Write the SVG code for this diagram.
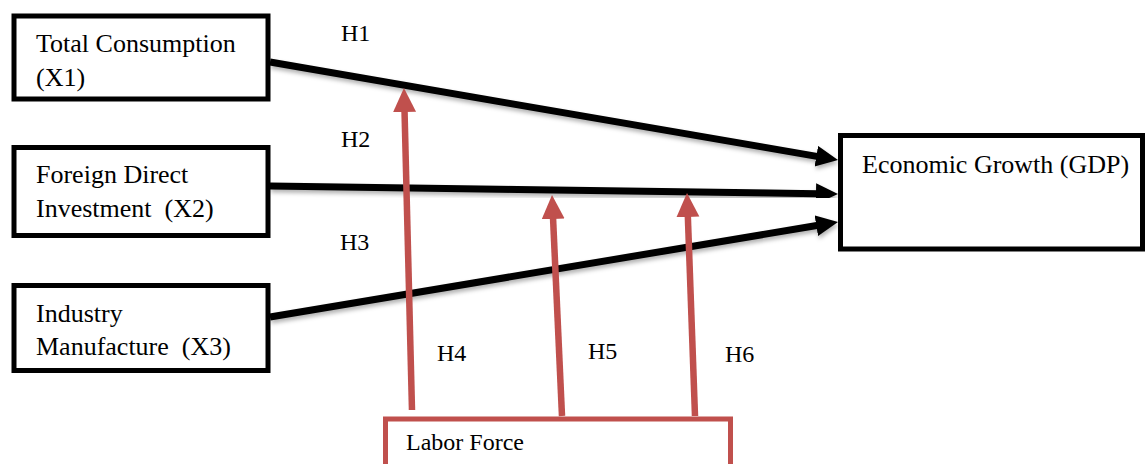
<svg xmlns="http://www.w3.org/2000/svg" width="1147" height="464" viewBox="0 0 1147 464">
<defs>
<style>
.box{fill:#fff;stroke:#000;stroke-width:5}
.rbox{fill:#fff;stroke:#C0504D;stroke-width:5}
text{fill:#000;white-space:pre}
.t{font-size:26px}
.h{font-size:24px}
.blk{stroke:#000;stroke-width:7;fill:none;marker-end:url(#ab);filter:url(#sh)}
.red{stroke:#C0504D;stroke-width:6.5;fill:none;marker-end:url(#ar)}
</style>
<marker id="ab" markerUnits="userSpaceOnUse" markerWidth="24" markerHeight="22" refX="2" refY="10.5" orient="auto">
<path d="M0,0 L22,10.5 L0,21 z" fill="#000"/>
</marker>
<marker id="ar" markerUnits="userSpaceOnUse" markerWidth="26" markerHeight="24" refX="2" refY="11.5" orient="auto">
<path d="M0,0 L24,11.5 L0,23 z" fill="#C0504D"/>
</marker>
<filter id="sh" x="-10%" y="-50%" width="120%" height="200%">
<feDropShadow dx="1" dy="3" stdDeviation="2" flood-color="#000" flood-opacity="0.3"/>
</filter>
</defs>
<rect width="1147" height="464" fill="#fff"/>
<g font-family="Liberation Serif, Times New Roman, DejaVu Serif, serif">
<g id="x1">
<rect class="box" x="14" y="16" width="254" height="83"/>
<text class="t" x="36" y="52">Total Consumption</text>
<text class="t" x="36" y="86">(X1)</text>
</g>
<g id="x2">
<rect class="box" x="14" y="147.5" width="254" height="88"/>
<text class="t" x="36" y="183">Foreign Direct</text>
<text class="t" x="36" y="217">Investment  (X2)</text>
</g>
<g id="x3">
<rect class="box" x="14" y="285.5" width="254" height="85"/>
<text class="t" x="36" y="322">Industry</text>
<text class="t" x="36" y="355">Manufacture  (X3)</text>
</g>
<g id="gdp">
<rect class="box" x="840.5" y="135.5" width="302" height="113.5"/>
<text class="t" x="862" y="173">Economic Growth (GDP)</text>
</g>
<g id="labor">
<rect class="rbox" x="385.5" y="419" width="345" height="60"/>
<text class="h" x="406" y="450">Labor Force</text>
</g>
<g id="connectors">
<line class="blk" x1="270" y1="62" x2="818.3" y2="156.6"/>
<line class="blk" x1="270" y1="186" x2="818" y2="193.7"/>
<line class="blk" x1="270" y1="317" x2="818.3" y2="225.3"/>
<line class="red" x1="412" y1="410" x2="404.5" y2="110"/>
<line class="red" x1="562" y1="416" x2="553" y2="217"/>
<line class="red" x1="695" y1="416" x2="687.8" y2="215"/>
</g>
<g id="labels">
<text class="h" x="341" y="41">H1</text>
<text class="h" x="341" y="147">H2</text>
<text class="h" x="340" y="250">H3</text>
<text class="h" x="437" y="361">H4</text>
<text class="h" x="588" y="359">H5</text>
<text class="h" x="725" y="362">H6</text>
</g>
</g>
</svg>
